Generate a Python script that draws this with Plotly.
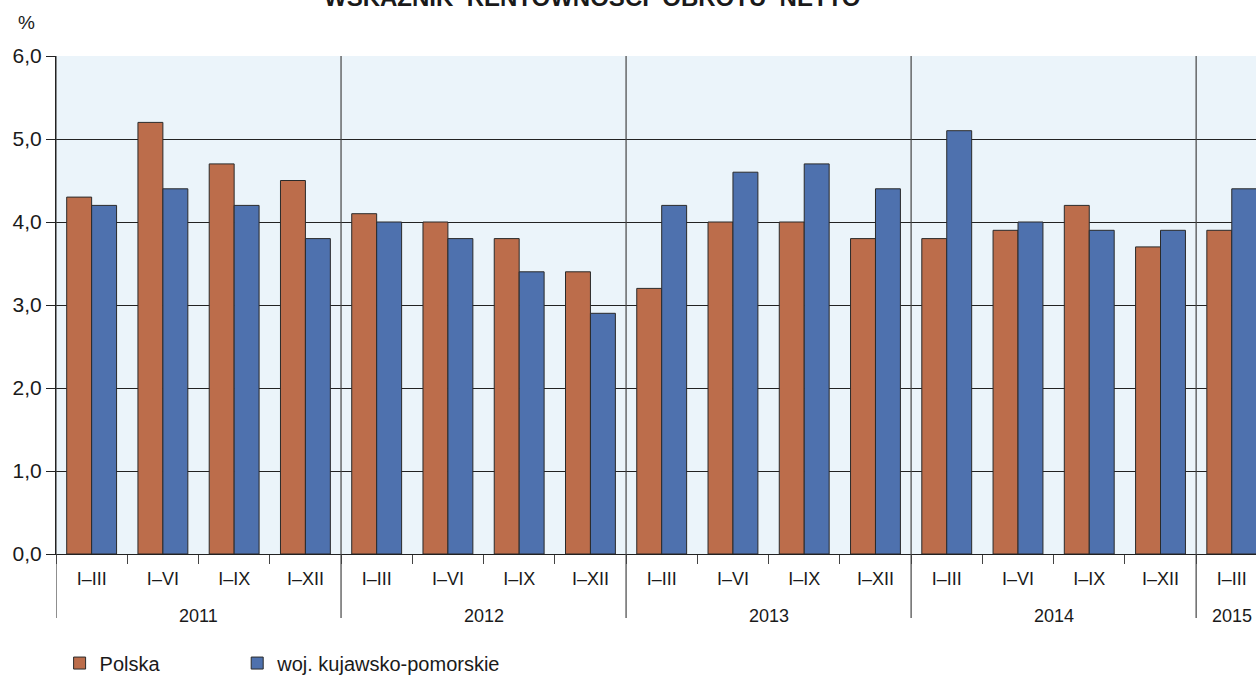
import plotly.graph_objects as go

years = ["2011"] * 4 + ["2012"] * 4 + ["2013"] * 4 + ["2014"] * 4 + ["2015"]
periods = ["I–III", "I–VI", "I–IX", "I–XII"] * 4 + ["I–III"]
polska = [4.3, 5.2, 4.7, 4.5, 4.1, 4.0, 3.8, 3.4, 3.2, 4.0, 4.0, 3.8, 3.8, 3.9, 4.2, 3.7, 3.9]
kuj_pom = [4.2, 4.4, 4.2, 3.8, 4.0, 3.8, 3.4, 2.9, 4.2, 4.6, 4.7, 4.4, 5.1, 4.0, 3.9, 3.9, 4.4]
series_names = ["Polska", "woj. kujawsko-pomorskie"]
title_text = "WSKAŹNIK  RENTOWNOŚCI  OBROTU  NETTO"

FONT = "Liberation Sans, Arial, sans-serif"
ORANGE = "#BC6D4B"
BLUE = "#4E71AE"
DARK = "#222222"
TXT = "#1a1a1a"

idx = list(range(len(periods)))

fig = go.Figure()
fig.add_trace(go.Bar(x=idx, y=polska, name=series_names[0], legend="legend",
                     marker=dict(color=ORANGE, line=dict(color="#2a2a2a", width=1))))
fig.add_trace(go.Bar(x=idx, y=kuj_pom, name=series_names[1], legend="legend2",
                     marker=dict(color=BLUE, line=dict(color="#2a2a2a", width=1))))

# year groups
year_order = []
for y in years:
    if y not in year_order:
        year_order.append(y)
annotations = []
bounds = [-0.5]
for yv in year_order:
    pos = [i for i, y in enumerate(years) if y == yv]
    center = sum(pos) / len(pos)
    annotations.append(dict(text=yv, xref="x", yref="paper", x=center, y=-0.1245,
                            xanchor="center", yanchor="middle", showarrow=False,
                            font=dict(size=18, family=FONT, color=TXT)))
    bounds.append(pos[-1] + 0.5)

for b in bounds[:-1]:
    fig.add_shape(type="line", xref="x", yref="paper", x0=b, x1=b, y0=-0.1285, y1=1,
                  line=dict(color="#444444", width=1.2), layer="above")

annotations += [
    dict(text="%", xref="paper", yref="paper", x=-0.0242, y=1.068,
         xanchor="center", yanchor="middle",
         showarrow=False, font=dict(size=19, family=FONT, color=TXT)),
    dict(text="<b>" + title_text + "</b>", xref="paper", yref="paper",
         x=(592 - 56) / 1200, y=1.1177, xanchor="center", yanchor="middle",
         showarrow=False, font=dict(size=24, family=FONT, color=TXT)),
]

fig.update_layout(
    width=1256, height=675,
    margin=dict(l=56, r=0, t=56, b=121, autoexpand=False),
    paper_bgcolor="white", plot_bgcolor="#EBF4FA",
    separators=", ",
    barmode="group", bargap=0.30, bargroupgap=0,
    font=dict(family=FONT, size=18, color=TXT),
    showlegend=True,
    legend=dict(orientation="h", x=0.003, xanchor="left", y=-0.219, yanchor="middle",
                font=dict(size=20, family=FONT, color=TXT), bgcolor="rgba(0,0,0,0)"),
    legend2=dict(orientation="h", x=0.151, xanchor="left", y=-0.219, yanchor="middle",
                 font=dict(size=20, family=FONT, color=TXT), bgcolor="rgba(0,0,0,0)"),
    xaxis=dict(
        range=[-0.5, 16.34],
        tickmode="array", tickvals=idx, ticktext=periods,
        ticks="", ticklabelstandoff=8,
        minor=dict(tick0=0.5, dtick=1, ticks="outside", ticklen=9,
                   tickcolor="#444", tickwidth=1, showgrid=False),
        showline=True, linecolor=DARK, linewidth=1,
        tickfont=dict(size=18, family=FONT, color=TXT),
        showgrid=False, zeroline=False, automargin=False,
    ),
    yaxis=dict(
        range=[0, 6], dtick=1, tickformat=".1f",
        showline=True, linecolor=DARK, linewidth=1,
        ticks="outside", ticklen=9, tickcolor=DARK,
        showgrid=True, gridcolor=DARK, gridwidth=1,
        zeroline=False, automargin=False,
        tickfont=dict(size=21, family=FONT, color=TXT),
    ),
    annotations=annotations,
)

fig.write_html("out.html", config={"displayModeBar": False},
               post_script="document.body.style.margin='0';")
